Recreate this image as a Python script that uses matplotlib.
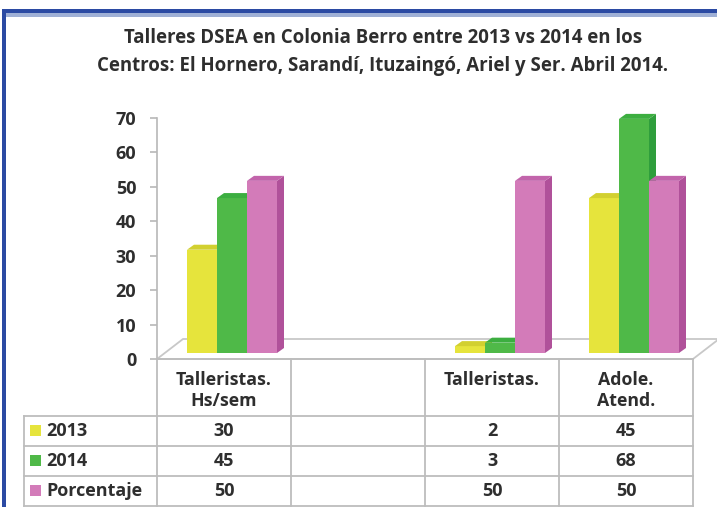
import matplotlib
matplotlib.use("Agg")
import matplotlib.pyplot as plt
from matplotlib.patches import Polygon, Rectangle
from matplotlib.lines import Line2D
import numpy as np

# data
categories = ["Talleristas.\nHs/sem", "", "Talleristas.", "Adole.\nAtend."]
series_names = ["2013", "2014", "Porcentaje"]
vals_2013 = [30, None, 2, 45]
vals_2014 = [45, None, 3, 68]
vals_pct = [50, None, 50, 50]
series_vals = [vals_2013, vals_2014, vals_pct]
yticks = [0, 10, 20, 30, 40, 50, 60, 70]
title = ("Talleres DSEA en Colonia Berro entre 2013 vs 2014 en los\n"
         "Centros: El Hornero, Sarandí, Ituzaingó, Ariel y Ser. Abril 2014.")

# front / side / top colours per series
front = ["#e6e43c", "#4fb948", "#d37bb9"]
side = ["#c4c226", "#2f9e3c", "#b0519a"]
top = ["#d2d030", "#3cae40", "#c264ab"]
txt = "#2e2e2e"

W, H = 717, 507
fig = plt.figure(figsize=(W / 100, H / 100), dpi=100)
fig.patch.set_facecolor("white")

# plot area: x 157..693 px, y 359..118 px (top-left pixel coords)
x0, x1, y0, y1 = 157, 693, 359, 118
ax = fig.add_axes([x0 / W, 1 - y0 / H, (x1 - x0) / W, (y0 - y1) / H])
ax.set_xlim(0, len(categories))
ax.set_ylim(0, 70)
ax.set_facecolor("none")
for s in ["top", "right", "bottom"]:
    ax.spines[s].set_visible(False)
ax.spines["left"].set_color("#b8b8b8")
ax.spines["left"].set_linewidth(1.2)
ax.set_xticks([])
ax.set_yticks(yticks)
ax.tick_params(axis="y", length=5, width=1.2, color="#b8b8b8", pad=10,
               labelsize=13, labelcolor=txt)
for lab in ax.get_yticklabels():
    lab.set_fontweight("bold")
    lab.set_fontfamily("Open Sans")

px_x = len(categories) / (x1 - x0)   # data units per pixel
px_y = 70 / (y0 - y1)

# floor (3d base)
fdx, fdy = 26 * px_x, 20 * px_y
n = len(categories)
floor = Polygon([(0, 0), (n, 0), (n + fdx, fdy), (fdx, fdy)], closed=True,
                facecolor="white", edgecolor="#c8c8c8", lw=1.3, clip_on=False, zorder=1)
ax.add_patch(floor)

# bars sit a bit into the floor depth
ox, oy = 8 * px_x, 6 * px_y
ddx, ddy = 7 * px_x, 5 * px_y
bw = 30 * px_x
for i, vals in enumerate(series_vals):
    for j, v in enumerate(vals):
        if v is None:
            continue
        xl = j + 0.5 - 1.5 * bw + i * bw + ox
        ax.bar(xl, v, width=bw, bottom=oy, align="edge", color=front[i],
               edgecolor="none", zorder=3 + i, clip_on=False)
        ax.add_patch(Polygon([(xl + bw, oy), (xl + bw + ddx, oy + ddy),
                              (xl + bw + ddx, oy + v + ddy), (xl + bw, oy + v)],
                             closed=True, facecolor=side[i], edgecolor="none",
                             zorder=3 + i, clip_on=False))
        ax.add_patch(Polygon([(xl, oy + v), (xl + bw, oy + v),
                              (xl + bw + ddx, oy + v + ddy), (xl + ddx, oy + v + ddy)],
                             closed=True, facecolor=top[i], edgecolor="none",
                             zorder=3 + i, clip_on=False))

# overlay in pixel coords for title, table and border
ov = fig.add_axes([0, 0, 1, 1])
ov.set_xlim(0, W)
ov.set_ylim(H, 0)
ov.axis("off")
ov.set_facecolor("none")

ov.text(383, 52, title, ha="center", va="center", fontsize=13.4, fontweight="bold",
        family="Open Sans", color=txt, linespacing=1.55)

# table
cols = [x0 + k * (x1 - x0) / n for k in range(n + 1)]
head_top, head_bot = 359, 416
row_h = 30
leg_left = 24
gc = "#bdbdbd"
ov.add_line(Line2D([cols[0], cols[-1]], [head_top, head_top], color=gc, lw=1.3))
for k in range(len(series_names) + 1):
    yy = head_bot + k * row_h
    ov.add_line(Line2D([leg_left, cols[-1]], [yy, yy], color=gc, lw=1.3))
for c in cols:
    ov.add_line(Line2D([c, c], [head_top, head_bot + 3 * row_h], color=gc, lw=1.3))
ov.add_line(Line2D([leg_left, leg_left], [head_bot, head_bot + 3 * row_h], color=gc, lw=1.3))

for j, cat in enumerate(categories):
    cx = (cols[j] + cols[j + 1]) / 2
    ov.text(cx, head_top + 12, cat, ha="center", va="top", fontsize=12.8, fontweight="bold",
            family="Open Sans", color=txt, linespacing=1.25)
for i, name in enumerate(series_names):
    cy = head_bot + i * row_h + row_h / 2
    ov.add_patch(Rectangle((30, cy - 6), 11, 11, facecolor=front[i], edgecolor="none"))
    ov.text(46, cy, name, ha="left", va="center", fontsize=13, fontweight="bold",
            family="Open Sans", color=txt)
    for j, v in enumerate(series_vals[i]):
        if v is None:
            continue
        cx = (cols[j] + cols[j + 1]) / 2
        ov.text(cx, cy, str(v), ha="center", va="center", fontsize=13, fontweight="bold",
                family="Open Sans", color=txt)

# blue frame
ov.add_patch(Rectangle((2, 9), W, 4, facecolor="#2b4aa3", edgecolor="none", clip_on=False))
ov.add_patch(Rectangle((5, 13), W, 4, facecolor="#9fb0d6", edgecolor="none", clip_on=False))
ov.add_patch(Rectangle((2, 9), 4, H, facecolor="#2b4aa3", edgecolor="none", clip_on=False))

fig.savefig("out.png", dpi=100, facecolor="white")
